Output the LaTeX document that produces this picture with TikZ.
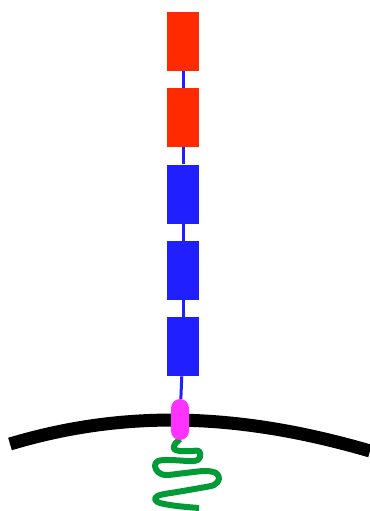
\documentclass[tikz,border=0pt]{standalone}
\usepackage{tikz}
\usetikzlibrary{positioning}

\definecolor{domred}{RGB}{255,42,0}
\definecolor{domblue}{RGB}{31,31,255}
\definecolor{tmpink}{RGB}{255,51,255}
\definecolor{tailgreen}{RGB}{0,155,55}

\begin{document}
\begin{tikzpicture}[
  x=0.5mm, y=-0.5mm, node distance=8.5mm,
  dom/.style={minimum width=16mm, minimum height=29.5mm, inner sep=0pt},
  tmseg/.style={fill=tmpink, rounded corners=4.5mm, minimum width=9mm,
                minimum height=20.5mm, inner sep=0pt},
  link/.style={domblue, line width=1.5mm},
  tail/.style={tailgreen, line width=3mm, line join=round}]
  \useasboundingbox (0,0) rectangle (370,511);
  % membrane
  \draw[line width=6.5mm] (10,444) .. controls (120,411) and (233,411) .. (370,451);
  % cytoplasmic tail, starts under the TM segment
  \coordinate (tailtop) at (180,439);
  \draw[tail] plot[smooth, tension=0.55] coordinates {(tailtop) (175,444) (174,449)
    (180,451) (192,451) (199,451) (200,457) (194,461) (170,460) (158,461) (155,466)
    (158,472) (166,475) (185,473) (205,471) (216,473) (219,479) (214,485) (200,488)
    (177,492) (160,495) (155,499) (160,503) (177,506) (199,508)};
  % domains, top to bottom
  \node[dom, fill=domred] (d1) at (183,41.5) {};
  \node[dom, fill=domred, below=of d1] (d2) {};
  \node[dom, fill=domblue, below=of d2] (d3) {};
  \node[dom, fill=domblue, below=of d3] (d4) {};
  \node[dom, fill=domblue, below=of d4] (d5) {};
  % transmembrane segment
  \node[tmseg] (tm) at (180,419.5) {};
  % linkers
  \draw[link] (d1) -- (d2); \draw[link] (d2) -- (d3); \draw[link] (d3) -- (d4);
  \draw[link] (d4) -- (d5); \draw[link] (d5) -- (tm);
\end{tikzpicture}
\end{document}
